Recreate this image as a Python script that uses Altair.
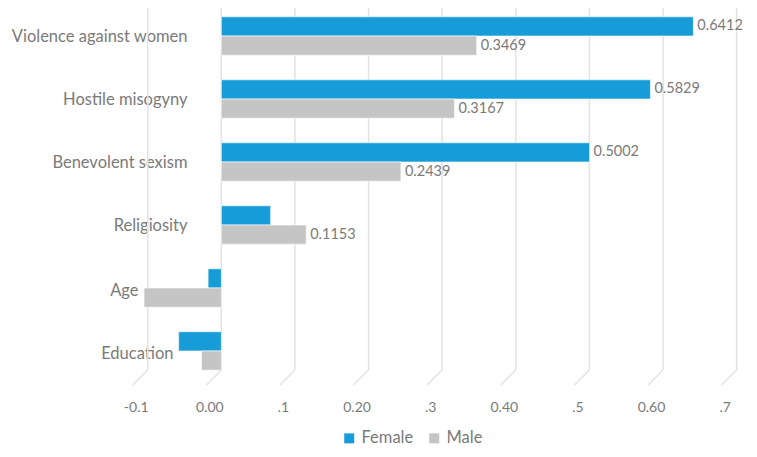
import altair as alt
import pandas as pd

categories = ["Violence against women", "Hostile misogyny", "Benevolent sexism",
              "Religiosity", "Age", "Education"]
female = [0.6412, 0.5829, 0.5002, 0.067, -0.018, -0.058]
male = [0.3469, 0.3167, 0.2439, 0.1153, -0.105, -0.027]
female_labels = ["0.6412", "0.5829", "0.5002", "", "", ""]
male_labels = ["0.3469", "0.3167", "0.2439", "0.1153", "", ""]
series = ["Female", "Male"]
tick_values = [-0.1, 0.0, 0.1, 0.2, 0.3, 0.4, 0.5, 0.6, 0.7]
tick_labels = ["-0.1", "0.00", ".1", "0.20", ".3", "0.40", ".5", "0.60", ".7"]

rows = []
for c, f, m, fl, ml in zip(categories, female, male, female_labels, male_labels):
    rows.append({"category": c, "gender": "Female", "value": f, "label": fl})
    rows.append({"category": c, "gender": "Male", "value": m, "label": ml})
df = pd.DataFrame(rows)
ticks_df = pd.DataFrame({"t": tick_values})

FONT = "Lato"
TXT = "#7a7a7a"
GRID = "#e2e2e2"
xscale = alt.Scale(domain=[-0.12, 0.71], nice=False, zero=False)
yscale = alt.Scale(paddingInner=0.39, paddingOuter=0.14)

label_expr = "[" + ",".join("'%s'" % s for s in tick_labels) + "][round(datum.value*10)+1]"
xaxis = alt.Axis(title=None, values=tick_values, labelExpr=label_expr,
                 domain=False, ticks=False, tickSize=0, grid=False,
                 labelOffset=-12, labelPadding=21, labelFontSize=14,
                 labelColor=TXT, labelFont=FONT)

grid_v = alt.Chart(ticks_df).mark_rule(color=GRID, strokeWidth=1.5).encode(
    x=alt.X("t:Q", scale=xscale, axis=xaxis),
    y=alt.value(0),
    y2=alt.value(362),
)
grid_d = alt.Chart(ticks_df).transform_calculate(t2="datum.t - 0.0204").mark_rule(
    color=GRID, strokeWidth=1.5).encode(
    x=alt.X("t:Q", scale=xscale, axis=xaxis),
    x2="t2:Q",
    y=alt.value(362),
    y2=alt.value(377),
)

pad_cond = {
    "condition": [
        {"test": "datum.value === 'Age'", "value": -5},
        {"test": "datum.value === 'Education'", "value": -40},
    ],
    "value": -54,
}
off_cond = {
    "condition": [
        {"test": "datum.value === 'Age' || datum.value === 'Education'", "value": 3},
    ],
    "value": 1,
}

ycat = alt.Y("category:N", sort=categories, scale=yscale,
             axis=alt.Axis(title=None, domain=False, ticks=False, tickSize=0,
                           labelPadding=pad_cond, labelOffset=off_cond,
                           labelFontSize=16.5, labelColor=TXT,
                           labelFont=FONT, labelLimit=300))

bars = alt.Chart(df).mark_bar(stroke="white", strokeWidth=0.6).encode(
    x=alt.X("value:Q", scale=xscale, axis=xaxis),
    y=ycat,
    yOffset=alt.YOffset("gender:N", sort=series),
    color=alt.Color("gender:N", sort=series,
                    scale=alt.Scale(domain=series, range=["#179cd8", "#c4c5c4"]),
                    legend=alt.Legend(title=None, orient="none", direction="horizontal",
                                      legendX=208, legendY=422, symbolType="square",
                                      symbolSize=100, symbolStrokeWidth=0,
                                      labelFontSize=16.5, labelColor=TXT, labelFont=FONT,
                                      columnPadding=12, labelOffset=4)),
)

labels = alt.Chart(df).mark_text(align="left", baseline="middle", dx=4,
                                 fontSize=14.5, font=FONT, color=TXT).encode(
    x=alt.X("value:Q", scale=xscale, axis=xaxis),
    y=alt.Y("category:N", sort=categories, scale=yscale),
    yOffset=alt.YOffset("gender:N", sort=series),
    text="label:N",
)

chart = alt.layer(grid_v, grid_d, bars, labels).properties(
    width=611, height=371,
    autosize=alt.AutoSizeParams(type="none"),
    padding={"left": 125, "top": 0, "right": 0, "bottom": 70},
).configure_view(strokeWidth=0)

chart.save("out.html", embed_options={"renderer": "svg", "actions": False})
